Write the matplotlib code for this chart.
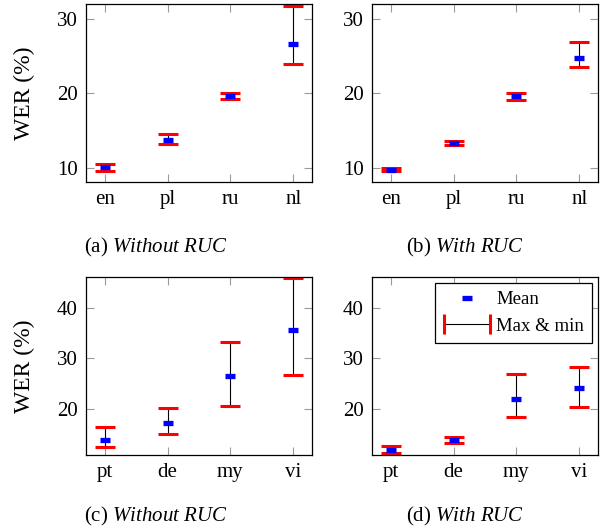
"""
WER per language, with and without RUC: mean marker plus max/min range.
"""

import numpy as np
import matplotlib
matplotlib.use("Agg")
import matplotlib.pyplot as plt
from matplotlib.lines import Line2D
from matplotlib.legend_handler import HandlerBase
from matplotlib.ticker import MultipleLocator

plt.rcParams['font.family'] = ['Liberation Serif', 'DejaVu Serif']
plt.rcParams['mathtext.fontset'] = 'custom'
plt.rcParams['mathtext.rm'] = 'Liberation Serif'
plt.rcParams['mathtext.it'] = 'Liberation Serif:italic'

# ---- data (WER %) ----
langs_top = ['en', 'pl', 'ru', 'nl']
langs_bot = ['pt', 'de', 'my', 'vi']

a_mean = [10.05, 13.68, 19.6, 26.6]
a_max  = [10.5, 14.48, 20.1, 31.7]
a_min  = [9.6, 13.14, 19.2, 23.9]

b_mean = [9.73, 13.3, 19.6, 24.72]
b_max  = [9.97, 13.58, 20.07, 26.86]
b_min  = [9.6, 13.09, 19.09, 23.56]

c_mean = [13.9, 17.24, 26.45, 35.5]
c_max  = [16.52, 20.2, 33.3, 45.8]
c_min  = [12.64, 15.08, 20.65, 26.7]

d_mean = [12.0, 13.9, 22.1, 24.2]
d_max  = [12.78, 14.57, 26.9, 28.4]
d_min  = [11.47, 13.4, 18.43, 20.4]

TICK_FS = 15
TICK_GRAY = '#9a9a9a'


class HandlerMaxMin(HandlerBase):
    """Horizontal range symbol: black line with red end bars."""
    def create_artists(self, legend, orig_handle, xdescent, ydescent,
                       width, height, fontsize, trans):
        yc = height / 2 - ydescent
        h = 0.52 * fontsize
        line = Line2D([-xdescent, width - xdescent], [yc, yc],
                      color='black', lw=0.8, transform=trans)
        left = Line2D([-xdescent, -xdescent], [yc - h, yc + h],
                      color='red', lw=2.2, solid_capstyle='butt', transform=trans)
        right = Line2D([width - xdescent, width - xdescent], [yc - h, yc + h],
                       color='red', lw=2.2, solid_capstyle='butt', transform=trans)
        return [line, left, right]


def panel(ax, labels, mean, vmax, vmin, ylim):
    x = np.arange(len(labels))
    mean = np.asarray(mean)
    err = [mean - np.asarray(vmin), np.asarray(vmax) - mean]
    _, caps, _ = ax.errorbar(x, mean, yerr=err, fmt='none', ecolor='black',
                             elinewidth=0.8, capsize=7.5, capthick=2.2, zorder=2)
    for c in caps:
        c.set_color('red')
        c.set_markeredgecolor('red')
    ax.plot(x, mean, ls='none', marker='_', ms=6.5, mew=3.8,
            color='blue', zorder=3)

    ax.set_xlim(-0.3, len(labels) - 0.7)
    ax.set_ylim(*ylim)
    ax.set_xticks(x)
    ax.set_xticklabels(labels)
    ax.yaxis.set_major_locator(MultipleLocator(10))
    ax.tick_params(direction='in', top=True, right=True, length=6, width=0.8,
                   color=TICK_GRAY, labelsize=TICK_FS, pad=6)
    for s in ax.spines.values():
        s.set_linewidth(0.9)
        s.set_color('black')


W, H = 603, 527
fig = plt.figure(figsize=(W / 100, H / 100), dpi=100)


def box(left, right, top, bottom):
    return [left / W, 1 - bottom / H, (right - left) / W, (bottom - top) / H]


ax_a = fig.add_axes(box(86, 312, 4, 182))
ax_b = fig.add_axes(box(372, 598, 4, 182))
ax_c = fig.add_axes(box(86, 312, 277, 455))
ax_d = fig.add_axes(box(372, 598, 277, 455))

panel(ax_a, langs_top, a_mean, a_max, a_min, (8.1, 32.0))
panel(ax_b, langs_top, b_mean, b_max, b_min, (8.1, 32.0))
panel(ax_c, langs_bot, c_mean, c_max, c_min, (11.0, 46.0))
panel(ax_d, langs_bot, d_mean, d_max, d_min, (11.0, 46.0))

for ax in (ax_a, ax_c):
    ax.set_ylabel('WER (%)', fontsize=17)
    ax.yaxis.set_label_coords(-0.225, 0.5)

# legend in (d)
mean_h = Line2D([], [], ls='none', marker='_', ms=6.5, mew=3.8, color='blue')
range_h = Line2D([], [], color='black')
leg = ax_d.legend([mean_h, range_h], ['Mean', 'Max & min'],
                  handler_map={range_h: HandlerMaxMin()},
                  loc='upper right', fontsize=13.5, handlelength=2.5,
                  handletextpad=0.3, borderpad=0.45, labelspacing=0.5,
                  borderaxespad=0.3, fancybox=False, framealpha=1,
                  edgecolor='black')
leg.get_frame().set_linewidth(0.9)

# subfigure captions
captions = [(156, 247, '(a) $\\mathit{Without\\ RUC}$'),
            (465, 247, '(b) $\\mathit{With\\ RUC}$'),
            (156, 516, '(c) $\\mathit{Without\\ RUC}$'),
            (465, 516, '(d) $\\mathit{With\\ RUC}$')]
for cx, cy, txt in captions:
    fig.text(cx / W, 1 - cy / H, txt, ha='center', va='center', fontsize=15)

fig.savefig('out.png', dpi=100)
